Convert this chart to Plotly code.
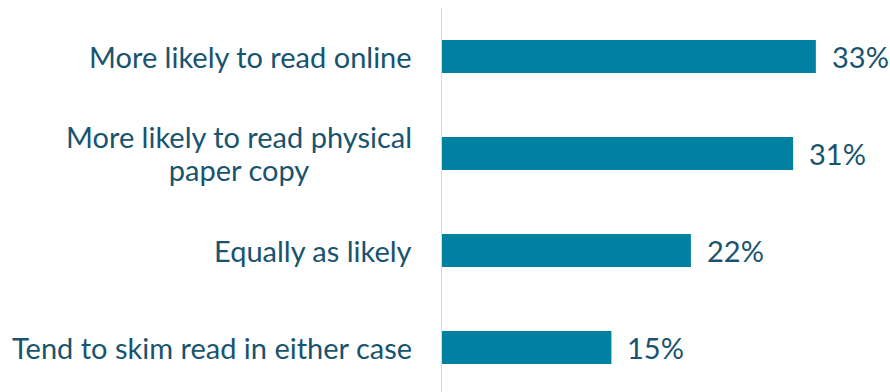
import plotly.graph_objects as go

categories = [
    "More likely to read online",
    "More likely to read physical<br>paper copy",
    "Equally as likely",
    "Tend to skim read in either case",
]
values = [33, 31, 22, 15]

BAR_COLOR = "#0081A1"
TEXT_COLOR = "#18536F"
FONT = "Lato"
FONT_SIZE = 29
# base size for label boxes; line spacing is 1.3em of this, giving tighter lines
LABEL_BASE_SIZE = 25.4

positions = list(range(len(categories)))

fig = go.Figure(
    go.Bar(
        x=values,
        y=positions,
        orientation="h",
        width=0.34,
        marker=dict(color=BAR_COLOR, line=dict(width=0)),
        hoverinfo="skip",
    )
)

# value labels to the right of each bar
for p, v in zip(positions, values):
    fig.add_annotation(
        x=v, y=p, xref="x", yref="y",
        text=f"{v}%", showarrow=False,
        xanchor="left", yanchor="middle", xshift=14,
        font=dict(family=FONT, size=FONT_SIZE, color=TEXT_COLOR),
    )

# category labels, centre-aligned lines, right-anchored near the axis
for p, c in zip(positions, categories):
    styled = "<br>".join(
        f"<span style='font-size:{FONT_SIZE}px'>{line}</span>" for line in c.split("<br>")
    )
    fig.add_annotation(
        x=0, y=p, xref="paper", yref="y",
        text=styled, showarrow=False, align="center",
        xanchor="right", yanchor="middle", xshift=-27,
        font=dict(family=FONT, size=LABEL_BASE_SIZE, color=TEXT_COLOR),
    )

fig.update_layout(
    width=890, height=392,
    margin=dict(l=441, r=6, t=8, b=0),
    paper_bgcolor="white", plot_bgcolor="white",
    showlegend=False,
    xaxis=dict(range=[0, 39], visible=False, fixedrange=True),
    yaxis=dict(
        range=[3.459, -0.5], showticklabels=False, showgrid=False,
        zeroline=False, showline=False, fixedrange=True,
    ),
    shapes=[dict(
        type="line", xref="x", yref="paper", x0=0, x1=0, y0=0, y1=1,
        line=dict(color="#D9D9D9", width=2), layer="above",
    )],
)

fig.write_html("out.html", config={"displayModeBar": False})
